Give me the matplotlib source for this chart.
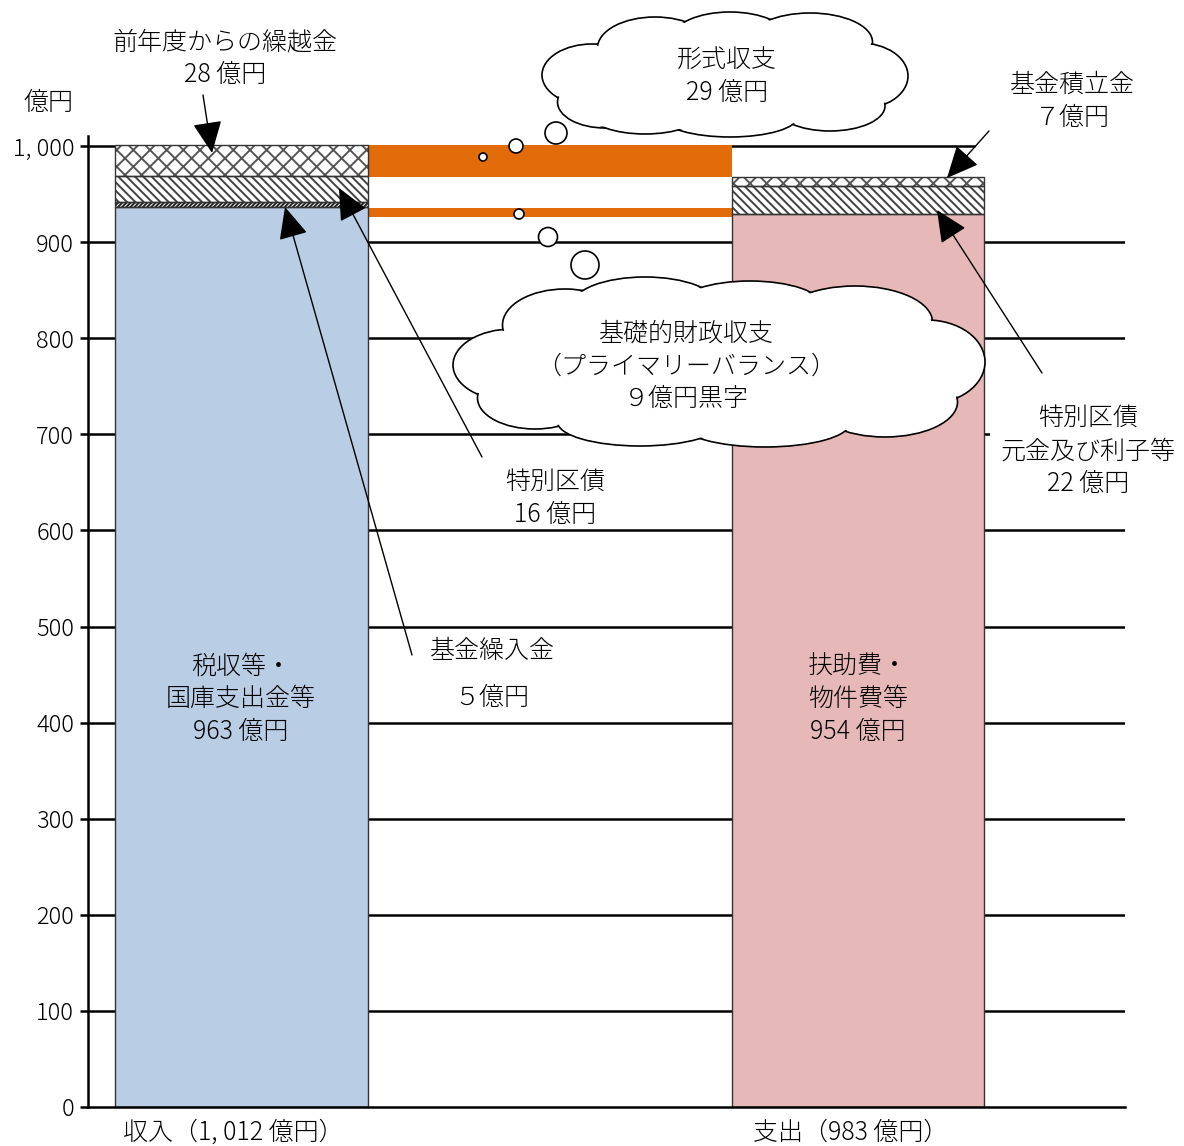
import matplotlib
matplotlib.use("Agg")
import matplotlib.pyplot as plt
from matplotlib.patches import Ellipse, Circle, Rectangle
import numpy as np

plt.rcParams["font.family"] = ["Noto Sans CJK JP", "DejaVu Sans"]
plt.rcParams["font.weight"] = "light"
plt.rcParams["hatch.linewidth"] = 1.4

# values as drawn in the chart (億円)
income_names = ["税収等・国庫支出金等", "基金繰入金", "特別区債", "前年度からの繰越金"]
income_values = [937, 5, 27, 32]
expense_names = ["扶助費・物件費等", "特別区債元金及び利子等", "基金積立金"]
expense_values = [929, 29, 10]
# orange bands: 形式収支 / 基礎的財政収支
balance_low = [968, 926.5]
balance_high = [1001, 936]

yticks = [0, 100, 200, 300, 400, 500, 600, 700, 800, 900, 1000]
ytick_labels = ["0", "100", "200", "300", "400", "500", "600", "700", "800", "900", "1, 000"]

income_styles = [
    dict(fc="#B9CDE5", hatch=None, hc="#404040"),
    dict(fc="white", hatch="////////", hc="#202020"),
    dict(fc="white", hatch="\\\\\\\\", hc="#404040"),
    dict(fc="white", hatch="xx", hc="#555555"),
]
expense_styles = [
    dict(fc="#E6B8B7", hatch=None, hc="#404040"),
    dict(fc="white", hatch="\\\\\\\\", hc="#404040"),
    dict(fc="white", hatch="xx", hc="#555555"),
]

W, H = 1184, 1146
fig = plt.figure(figsize=(W / 100, H / 100), dpi=100)
ax = fig.add_axes([88 / W, 39 / H, (1125 - 88) / W, (1107 - 136.4) / H])
x0, x1 = -0.498, 2.866
ax.set_xlim(x0, x1)
ax.set_ylim(0, 1010)

# grid lines behind the bars
ax.hlines(yticks[1:-1], x0, x1, color="black", lw=1.8, zorder=1)
ax.hlines(1000, x0, 2.38, color="black", lw=1.8, zorder=1)


def stack(xpos, values, styles, width=0.82):
    bottom = 0
    for v, st in zip(values, styles):
        ax.bar(xpos, v, width, bottom=bottom, color=st["fc"], edgecolor=st["hc"],
               hatch=st["hatch"], linewidth=0, zorder=2)
        ax.bar(xpos, v, width, bottom=bottom, fill=False, edgecolor="#333333",
               linewidth=1.0, zorder=2.5)
        bottom += v


stack(0, income_values, income_styles)
stack(2, expense_values, expense_styles)

lo = np.array(balance_low)
hi = np.array(balance_high)
ax.bar([1, 1], hi - lo, 1.18, bottom=lo, color="#E36C0A", linewidth=0, zorder=2)

ax.set_yticks(yticks, ytick_labels)
ax.set_xticks([])
ax.tick_params(axis="y", length=6, width=1.8, pad=4, labelsize=17)
for s in ["top", "right"]:
    ax.spines[s].set_visible(False)
ax.spines["left"].set_linewidth(1.8)
ax.spines["bottom"].set_linewidth(1.8)

# overlay in pixel coordinates for clouds and notes
ov = fig.add_axes([0, 0, 1, 1])
ov.set_xlim(0, W)
ov.set_ylim(H, 0)
ov.axis("off")


def cloud(lobes, z=5):
    for cx, cy, w, h in lobes:
        ov.add_patch(Ellipse((cx, cy), w, h, fc="white", ec="black", lw=1.2, zorder=z))
    for cx, cy, w, h in lobes:
        ov.add_patch(Ellipse((cx, cy), w - 3, h - 3, fc="white", ec="none", zorder=z + 0.1))


cloud([(592, 75, 100, 62), (605, 102, 95, 52), (655, 48, 115, 62), (730, 38, 115, 52),
       (810, 42, 125, 58), (860, 76, 96, 66), (830, 106, 110, 50), (730, 117, 135, 40),
       (645, 114, 110, 40), (725, 76, 260, 80)])
cloud([(512, 365, 118, 72), (535, 398, 115, 62), (565, 325, 125, 72), (645, 305, 145, 56),
       (750, 306, 145, 50), (855, 322, 155, 72), (927, 362, 116, 84), (885, 402, 145, 70),
       (765, 423, 170, 48), (640, 422, 165, 48), (718, 365, 420, 110)])

for cx, cy, r in [(483, 157, 4), (516, 146, 7), (556, 133, 11),
                  (519, 214, 5), (548, 237, 9.5), (585, 265, 14)]:
    ov.add_patch(Circle((cx, cy), r, fc="white", ec="black", lw=1.2, zorder=5))

ov.add_patch(Rectangle((990, 400), 194, 105, fc="white", ec="none", zorder=4))


def label(lines, x, y, step=33, size=18):
    for i, s in enumerate(lines):
        ov.text(x, y + i * step, s, ha="center", va="center", fontsize=size, zorder=6)


label(["前年度からの繰越金", "28 億円"], 225, 42)
label(["形式収支", "29 億円"], 727, 60)
label(["基金積立金", "７億円"], 1072, 85)
label(["億円"], 48, 103)
label(["基礎的財政収支", "（プライマリーバランス）", "９億円黒字"], 686, 333)
label(["特別区債", "16 億円"], 555, 482)
label(["基金繰入金"], 492, 651)
label(["５億円"], 492, 698)
label(["特別区債", "元金及び利子等", "22 億円"], 1088, 418)
label(["税収等・", "国庫支出金等", "963 億円"], 241, 666)
label(["扶助費・", "物件費等", "954 億円"], 858, 666)
label(["収入（1, 012 億円）"], 233, 1132)
label(["支出（983 億円）"], 851, 1132)

head = "-|>,head_length=0.5,head_width=0.23"
arrows = [((203, 95), (212, 153), 40), ((989, 131), (947, 178), 40),
          ((482, 457), (339, 188), 40), ((412, 655), (285, 207), 40),
          ((1042, 373), (937, 210), 40)]
for start, tip, ms in arrows:
    ov.annotate("", xy=tip, xytext=start,
                arrowprops=dict(arrowstyle=head, mutation_scale=ms, lw=1.0,
                                color="black", shrinkA=0, shrinkB=0), zorder=7)

fig.savefig("out.png", dpi=100)
